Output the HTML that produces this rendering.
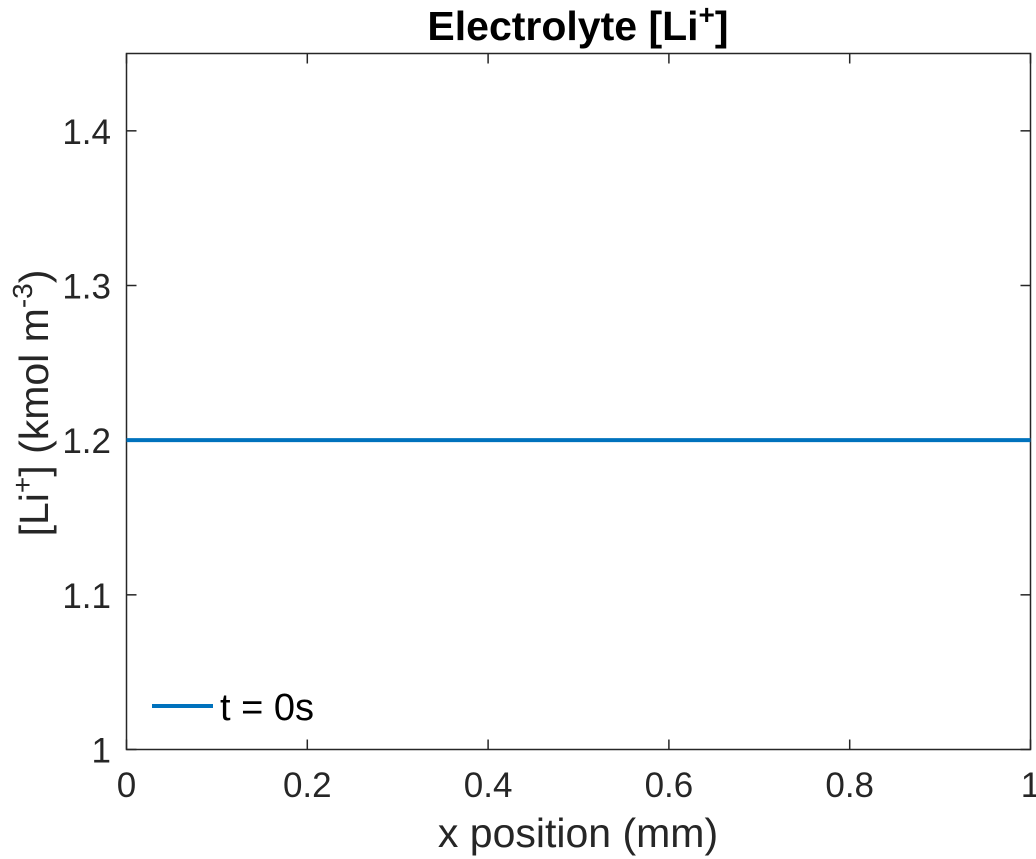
<!DOCTYPE html>
<html><head><meta charset="utf-8"><style>
body{margin:0;background:#fff;}
svg{display:block;font-family:"Liberation Sans",Arial,sans-serif;}
</style></head><body>
<svg id="chart" width="1036" height="859">
<g id="axes"></g>
<g id="plot"></g>
<text x="578" y="40" text-anchor="middle" font-size="41" font-weight="bold">Electrolyte [Li<tspan dy="-16" font-size="28">+</tspan><tspan dy="16">]</tspan></text>
<text x="578" y="847" text-anchor="middle" font-size="41" fill="#262626">x position (mm)</text>
<text transform="translate(48,403) rotate(-90)" text-anchor="middle" font-size="41" fill="#262626">[Li<tspan dy="-16" font-size="28">+</tspan><tspan dy="16">] (kmol m</tspan><tspan dy="-16" font-size="28">-3</tspan><tspan dy="16">)</tspan></text>
<g>
<line x1="152" y1="706" x2="213" y2="706" stroke="#0072BD" stroke-width="4"/>
<text x="220" y="720" font-size="38" fill="#000">t = 0s</text>
</g>
</svg>
<script>
const xTicks=[0,0.2,0.4,0.6,0.8,1];
const xTickLabels=["0","0.2","0.4","0.6","0.8","1"];
const yTicks=[1,1.1,1.2,1.3,1.4];
const yTickLabels=["1","1.1","1.2","1.3","1.4"];
const seriesX=[0,0.1,0.2,0.3,0.4,0.5,0.6,0.7,0.8,0.9,1];
const seriesY=[1.2,1.2,1.2,1.2,1.2,1.2,1.2,1.2,1.2,1.2,1.2];
const L=126.5,R=1030.5,T=53.5,B=749.5,xMin=0,xMax=1,yMin=1,yMax=1.45;
const sx=v=>L+(v-xMin)/(xMax-xMin)*(R-L);
const sy=v=>B-(v-yMin)/(yMax-yMin)*(B-T);
const NS="http://www.w3.org/2000/svg";
const ax=document.getElementById('axes'),pl=document.getElementById('plot');
function mk(tag,attrs,parent){const e=document.createElementNS(NS,tag);for(const k in attrs)e.setAttribute(k,attrs[k]);parent.appendChild(e);return e;}
const box=mk('rect',{x:L,y:T,width:R-L,height:B-T,fill:'none',stroke:'#262626','stroke-width':1.5},ax);


xTicks.forEach((v,i)=>{const x=sx(v);
 const t1=mk('line',{x1:x,y1:B,x2:x,y2:B-10,stroke:'#262626','stroke-width':1.5},ax);
 
 
 const t2=mk('line',{x1:x,y1:T,x2:x,y2:T+10,stroke:'#262626','stroke-width':1.5},ax);
 
 
 const tx=mk('text',{x:x,y:797,'text-anchor':'middle','font-size':35,fill:'#262626'},ax);
 tx.textContent=xTickLabels[i];
 
 
});
yTicks.forEach((v,i)=>{const y=sy(v);
 const t1=mk('line',{x1:L,y1:y,x2:L+10,y2:y,stroke:'#262626','stroke-width':1.5},ax);
 
 
 const t2=mk('line',{x1:R,y1:y,x2:R-10,y2:y,stroke:'#262626','stroke-width':1.5},ax);
 
 
 const tx=mk('text',{x:111,y:y+13,'text-anchor':'end','font-size':35,fill:'#262626'},ax);
 tx.textContent=yTickLabels[i];
 
 
});
const pts=seriesX.map((x,i)=>sx(x)+','+sy(seriesY[i])).join(' ');
const line=mk('polyline',{points:pts,fill:'none',stroke:'#0072BD','stroke-width':4},pl);


</script>
</body></html>
